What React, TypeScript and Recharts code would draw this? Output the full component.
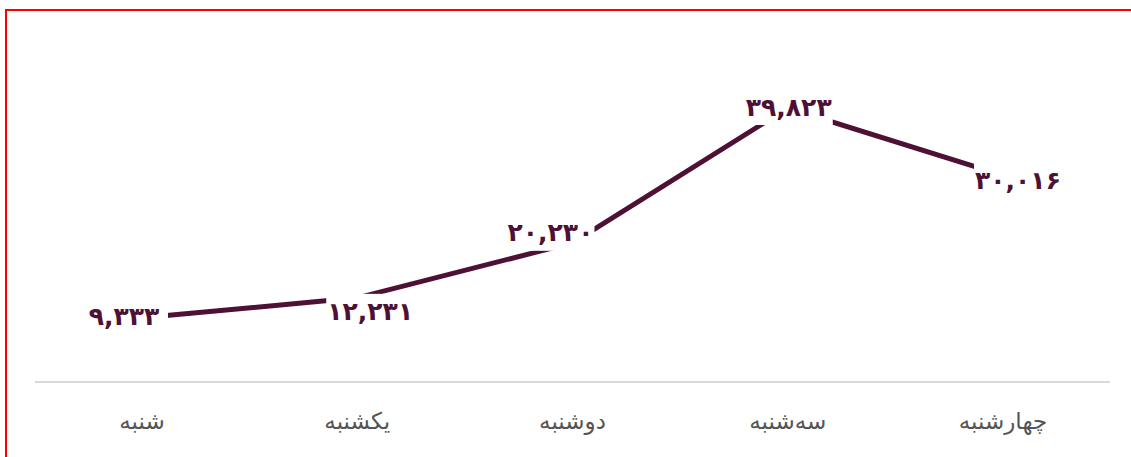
import React from "react";
import { LineChart, Line, XAxis, YAxis, LabelList } from "recharts";

const categories = ["شنبه", "یکشنبه", "دوشنبه", "سه‌شنبه", "چهارشنبه"];
const values = [9333, 12231, 20230, 39823, 30016];

const data = categories.map((name, i) => ({ name, value: values[i] }));

const faDigits = "۰۱۲۳۴۵۶۷۸۹";
const toFa = (n: number) =>
  n
    .toLocaleString("en-US")
    .replace(/[0-9]/g, (d) => faDigits[Number(d)]);

const LINE_COLOR = "#4e1034";
// label placement relative to its point (style constant)
const LABEL_OFFSETS = [
  [-18, -1],
  [13, 14],
  [-22, -10],
  [1, -1],
  [15, 5],
];

const ValueLabel = (props: any) => {
  const { x, y, value, index } = props;
  const [dx, dy] = LABEL_OFFSETS[index] || [0, 0];
  const cx = x + dx;
  const cy = y + dy;
  return (
    <g>
      <rect x={cx - 44} y={cy - 18} width={88} height={36} fill="#fff" />
      <text
        x={cx}
        y={cy}
        textAnchor="middle"
        dominantBaseline="central"
        fill={LINE_COLOR}
        fontSize={25}
        fontWeight="bold"
        fontFamily="DejaVu Sans"
        style={{ direction: "ltr" }}
      >
        {toFa(value)}
      </text>
    </g>
  );
};

export default function App() {
  return (
    <div
      style={{
        position: "fixed",
        left: 0,
        top: 0,
        width: 1131,
        height: 457,
        overflow: "hidden",
        background: "#fff",
      }}
    >
      <div
        style={{
          position: "absolute",
          left: 5,
          top: 9,
          width: 1300,
          height: 600,
          borderTop: "2px solid #ff0000",
          borderLeft: "2px solid #ff0000",
        }}
      />
      <div style={{ position: "absolute", left: 0, top: 0 }}>
        <LineChart
          width={1131}
          height={457}
          data={data}
          margin={{ top: 108, right: 21, bottom: 0, left: 35 }}
        >
          <XAxis
            dataKey="name"
            axisLine={{ stroke: "#d9d9d9", strokeWidth: 2 }}
            tickLine={false}
            padding={{ left: 107, right: 107 }}
            height={75}
            tickMargin={25}
            tick={{ fill: "#555", fontSize: 23, fontFamily: "DejaVu Sans" }}
            interval={0}
          />
          <YAxis hide domain={[0, "dataMax"]} />
          <Line
            type="linear"
            dataKey="value"
            stroke={LINE_COLOR}
            strokeWidth={5}
            dot={false}
            activeDot={false}
            isAnimationActive={false}
          >
            <LabelList dataKey="value" content={ValueLabel} />
          </Line>
        </LineChart>
      </div>
    </div>
  );
}
